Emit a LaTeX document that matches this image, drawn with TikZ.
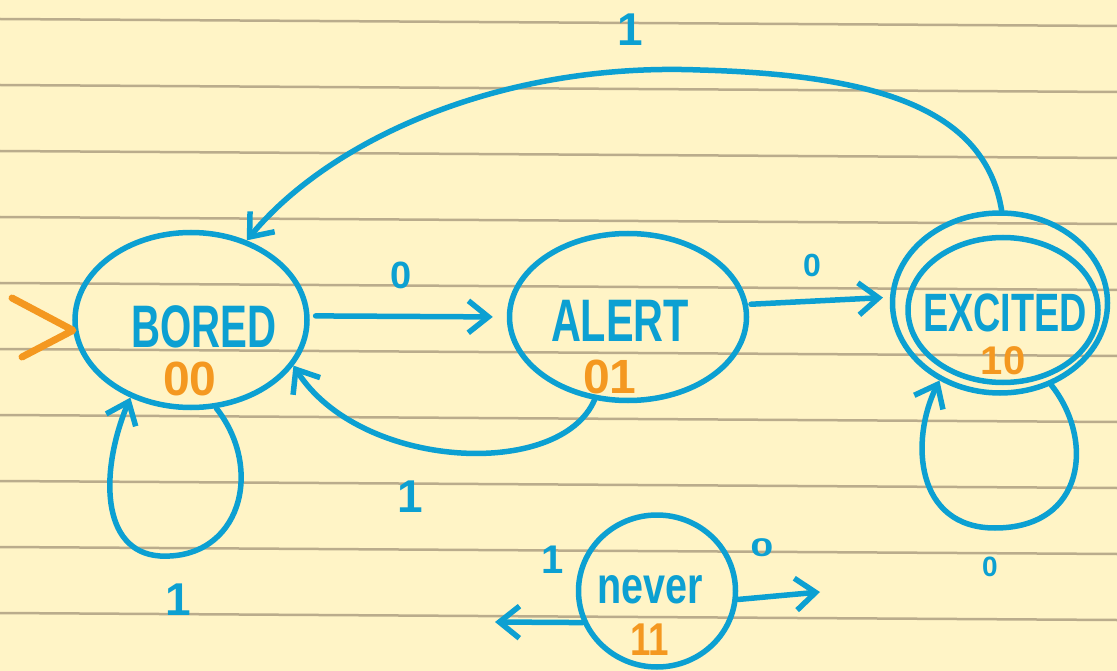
\documentclass[tikz,border=0pt]{standalone}
\usepackage{fontspec}
\setmainfont{Liberation Sans}
\usetikzlibrary{arrows.meta,shapes.geometric}
\definecolor{paper}{RGB}{255,244,198}
\definecolor{rulecol}{RGB}{186,172,140}
\definecolor{pen}{RGB}{12,160,210}
\definecolor{hl}{RGB}{244,152,32}
\begin{document}
\begin{tikzpicture}[x=1pt,y=-1pt,
  state/.style={ellipse, draw=pen, line width=5.5pt, inner sep=0pt},
  edge/.style={draw=pen, line width=5.5pt, line cap=round, line join=round,
    -{Straight Barb[length=20pt,width=32pt]}},
  statetxt/.style={text=pen, inner sep=0pt, font=\bfseries},
  codetxt/.style={text=hl, inner sep=0pt, font=\bfseries},
  lbl/.style={text=pen, inner sep=0pt, font=\bfseries}]
\useasboundingbox (0,0) rectangle (1117,671);
\fill[paper] (0,0) rectangle (1117,671);
\foreach \y in {19,85,151,217,283,349,415,481,547,613}
  \draw[rulecol, line width=2.5pt] (0,\y) -- (1117,\y+7);

% states
\node[state, minimum width=232pt, minimum height=175pt] (bored) at (191,320) {};
\node[state, minimum width=237pt, minimum height=167pt] (alert) at (628,317) {};
\node[state, minimum width=215pt, minimum height=180pt] (exc) at (1000,303) {};
\node[state, minimum width=190pt, minimum height=145pt] (excin) at (1003,310) {};
\node[state, minimum width=157pt, minimum height=152pt] (never) at (657,591) {};

% state texts
\node[statetxt] (boredt) at (204,327) {\fontsize{60}{60}\selectfont\scalebox{0.67}[1]{BORED}};
\node[codetxt] (boredc) at (190,379) {\fontsize{48}{48}\selectfont 00};
\node[statetxt] (alertt) at (620,321) {\fontsize{60}{60}\selectfont\scalebox{0.69}[1]{ALERT}};
\node[codetxt] (alertc) at (610,377) {\fontsize{48}{48}\selectfont 01};
\node[statetxt] (exct) at (1005,313) {\fontsize{54}{54}\selectfont\scalebox{0.7}[1]{EXCITED}};
\node[codetxt] (excc) at (1003,361) {\fontsize{40}{40}\selectfont 10};
\node[statetxt] (nevert) at (650,590) {\fontsize{52}{52}\selectfont\scalebox{0.76}[1]{never}};
\node[codetxt] (neverc) at (650,640) {\fontsize{46}{46}\selectfont\scalebox{0.8}[1]{11}};

% initial arrow
\coordinate (init1) at (12,298);
\coordinate (init2) at (22,357);
\draw[hl, line width=7pt, line cap=round, line join=round] (init1) -- (bored.185) -- (init2);

% transitions
\draw[edge, shorten <=6pt, shorten >=14pt] (bored.2) -- (alert.180);
\node[lbl] (l1) at (401,275) {\fontsize{38}{38}\selectfont 0};

\draw[edge, shorten <=3pt, shorten >=7pt] (alert.6) -- (exc.177);
\node[lbl] (l2) at (812,265) {\fontsize{32}{32}\selectfont 0};

\draw[edge] (alert.-112) .. controls (560,480) and (360,470) .. (bored.-24);
\node[lbl] (l3) at (410,497) {\fontsize{46}{46}\selectfont 1};

\draw[edge] (bored.-74) .. controls (265,470) and (240,560) .. (160,556)
   .. controls (100,552) and (100,470) .. (bored.-128);
\node[lbl] (l4) at (178,600) {\fontsize{46}{46}\selectfont 1};

\draw[edge] (exc.89) .. controls (985,110) and (880,75) .. (700,70)
   .. controls (500,62) and (330,140) .. (bored.55);
\node[lbl] (l5) at (630,30) {\fontsize{46}{46}\selectfont 1};

\draw[edge] (exc.-58) .. controls (1095,440) and (1085,528) .. (995,528)
   .. controls (915,528) and (910,440) .. (exc.-128);
\node[lbl] (l6) at (990,567) {\fontsize{28}{28}\selectfont 0};

\coordinate (nl) at (495,622);
\coordinate (nr) at (820,592);
\draw[edge] (never.203) -- (nl);
\node[lbl] (l7) at (553,560) {\fontsize{40}{40}\selectfont 1};
\draw[edge] (never.-6) -- (nr);
\node[lbl] (l8) at (762,548) {\fontsize{32}{32}\selectfont\scalebox{1.3}[0.8]{0}};
\end{tikzpicture}
\end{document}
